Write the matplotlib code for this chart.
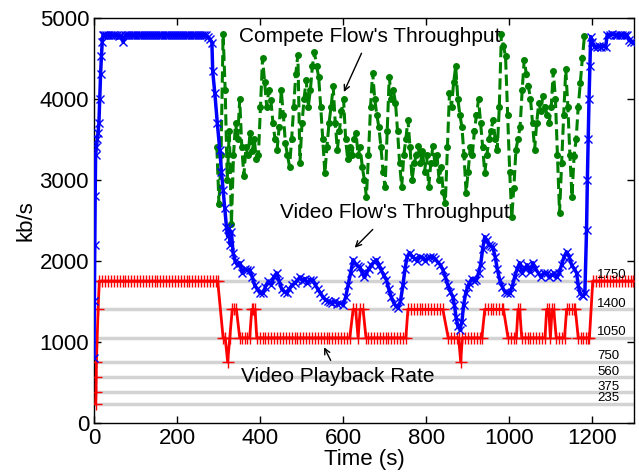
import numpy as np
import matplotlib
matplotlib.use("Agg")
import matplotlib.pyplot as plt

plt.rcParams['font.family'] = ['Liberation Sans', 'DejaVu Sans']

# ---------------- data ----------------
bitrates = [235, 375, 560, 750, 1050, 1400, 1750]
bitrate_labels = ['235', '375', '560', '750', '1050', '1400', '1750']

x_ticks = [0, 200, 400, 600, 800, 1000, 1200]
y_ticks = [0, 1000, 2000, 3000, 4000, 5000]

# Video flow throughput (kb/s)
video_t = [0, 1, 2, 3, 4, 6, 8, 10, 12, 14, 16, 18, 20, 22,
           25, 30, 35, 40, 45, 50, 55, 60, 65, 70, 75, 80, 85, 90, 95, 100,
           105, 110, 115, 120, 125, 130, 135, 140, 145, 150, 155, 160, 165, 170,
           175, 180, 185, 190, 195, 200, 205, 210, 215, 220, 225, 230, 235, 240,
           245, 250, 255, 260, 265, 270, 275,
           280, 284, 286, 291, 297, 303, 307, 311, 315, 319, 322, 325, 328, 331,
           335, 340, 345, 351, 357, 363, 369, 375, 381, 387, 393, 400, 407, 413,
           420, 427, 433, 440, 446, 452, 458, 464, 470, 477, 483, 490, 496, 502,
           508, 514, 520, 527, 533, 539, 545, 551, 557, 563, 568, 574, 580, 586,
           592, 600, 606, 612, 618, 624, 630, 636, 640, 646, 651, 656, 662, 668,
           674, 680, 686, 692, 698, 704, 710, 716, 722, 727, 732, 738, 744, 749,
           754, 760, 766, 772, 778, 784, 792, 798, 804, 810, 816, 822, 828, 834,
           840, 846, 852, 858, 864, 868, 872, 876, 881, 886, 890, 895, 900, 904,
           910, 915, 921, 926, 931, 936, 941, 946, 950, 955, 960, 966, 971, 977,
           983, 989, 995, 1001, 1007, 1013, 1019, 1025, 1031, 1037, 1043, 1050,
           1057, 1063, 1070, 1076, 1083, 1090, 1096, 1102, 1108, 1114, 1120, 1126,
           1132, 1138, 1144, 1150, 1156, 1162, 1166, 1170, 1174, 1178, 1182, 1186,
           1188, 1190, 1192, 1194, 1196, 1200, 1205, 1210, 1215, 1220, 1226, 1232,
           1236, 1242, 1248, 1254, 1260, 1266, 1272, 1278, 1283, 1288, 1294, 1300]
video_v = [800, 1500, 2200, 2800, 3300, 3400, 3500, 3580, 3700, 4000, 4300, 4520, 4700, 4790,
           4780, 4790, 4780, 4790, 4780, 4790, 4780, 4770, 4780, 4700, 4780, 4790, 4780, 4790, 4780, 4790,
           4780, 4790, 4780, 4790, 4780, 4780, 4790, 4780, 4790, 4780, 4790, 4780, 4790, 4780,
           4790, 4780, 4790, 4780, 4790, 4780, 4790, 4780, 4790, 4780, 4790, 4780, 4790, 4780,
           4790, 4780, 4790, 4780, 4790, 4780, 4760,
           4730, 4690, 4335, 4070, 3700, 3370, 3100, 2876, 2650, 2420, 2300, 2400, 2200, 2350,
           2100, 2000, 1950, 1975, 1850, 1900, 1880, 1890, 1800, 1700, 1650, 1600, 1600, 1680,
           1750, 1700, 1800, 1850, 1750, 1650, 1620, 1600, 1650, 1700, 1720, 1760, 1800, 1750,
           1780, 1720, 1765, 1765, 1700, 1650, 1600, 1556, 1520, 1500, 1495, 1480, 1500, 1470,
           1480, 1457, 1550, 1700, 1850, 2012, 1960, 1930, 1926, 1850, 1800, 1850, 1900, 1950,
           1980, 2012, 1950, 1880, 1820, 1765, 1650, 1550, 1480, 1440, 1420, 1500, 1700, 1900,
           2050, 2100, 2050, 2030, 2000, 2050, 2037, 2000, 2030, 2050, 2050, 2020, 1980, 1950,
           1890, 1800, 1700, 1620, 1556, 1450, 1300, 1200, 1148, 1250, 1450, 1600, 1680, 1728,
           1780, 1750, 1765, 1850, 1950, 2150, 2296, 2250, 2200, 2180, 2173, 2050, 1900, 1765,
           1680, 1620, 1600, 1605, 1680, 1800, 1900, 1975, 1850, 1900, 1950, 1860,
           1975, 1900, 1850, 1800, 1850, 1850, 1800, 1820, 1850, 1800, 1850, 1950,
           2050, 2110, 2050, 1950, 1900, 1850, 1700, 1600, 1580, 1560, 1600, 2380,
           3000, 3500, 4000, 4400, 4765, 4700, 4640, 4640, 4650, 4640, 4650, 4640,
           4790, 4790, 4800, 4790, 4790, 4780, 4790, 4780, 4790, 4720, 4700, 4700]

# Competing flow throughput (kb/s), sampled every 5 s from t = 296 s
compete_t = np.arange(296, 1182, 5)
compete_v = [3400, 2700, 3300, 4800, 4100, 3000, 3600, 2450, 3300, 3700,
             3500, 3990, 3400, 3050, 3400, 3300, 3580, 3350, 3500, 3250,
             3300, 3900, 4500, 4200, 3900, 4100, 3980, 3700, 3500, 3370,
             3650, 4100, 3800, 3450, 3300, 3160, 3500, 3900, 4300, 4540,
             3210, 3700, 4000, 4230, 3900, 4100, 4400, 4570, 4400, 4270,
             3900, 3500, 3080, 3400, 3700, 3900, 4150, 3700, 3370, 3600,
             3850, 3990, 3500, 3250, 3400, 3300, 3500, 3580, 3300, 3400,
             3160, 3000, 2790, 3300, 3900, 4320, 4000, 3800, 3650, 3400,
             3100, 2910, 3600, 4270, 4000, 4100, 3950, 3600, 3200, 2910,
             3300, 3500, 3740, 3400, 3000, 3200, 3300, 3410, 3200, 3350,
             3100, 3300, 2910, 3200, 3410, 3200, 3300, 3000, 3150, 2850,
             2710, 3400, 4070, 3900, 4200, 4400, 4000, 3800, 3650, 3300,
             2840, 3100, 3400, 3300, 3600, 3800, 3990, 3700, 3400, 3080,
             3300, 3500, 3600, 3740, 3500, 3370, 3900, 4800, 4650, 4520,
             3800, 3100, 2540, 2900, 3370, 3500, 3650, 4100, 4480, 4300,
             4150, 4000, 3700, 3370, 3700, 3950, 3850, 4030, 3900, 3800,
             3700, 3900, 4340, 4000, 3300, 2590, 3200, 3800, 4360, 3900,
             3300, 2790, 3290, 3500, 3900, 4190, 4500, 4770]

# Video playback rate (kb/s)
play_t = [4, 5, 5.5, 6, 10, 13,
          20, 27, 34, 41, 48, 55, 62, 69, 76, 83, 90, 97, 104, 111, 118, 125,
          132, 139, 146, 153, 160, 167, 174, 181, 188, 195, 202, 209, 216, 223,
          230, 237, 244, 251, 258, 265, 272, 279, 286, 293, 298,
          311, 316, 322, 327, 333, 338, 343, 351, 357, 363, 369, 375, 380, 384,
          388, 392,
          399, 406, 413, 420, 427, 434, 441, 448, 455, 462, 469, 476, 483, 490,
          497, 504, 511, 518, 525, 532, 539, 546, 553, 560, 567, 574, 581, 588,
          595, 602, 609, 616,
          624, 630, 636, 641, 648, 655,
          660, 667, 674, 681, 688, 695, 702, 709, 716, 723, 730, 737, 744, 751,
          756, 763, 770, 777, 784, 791, 798, 805, 812, 819, 826, 833, 840,
          853, 860, 867, 874, 878, 883, 887, 894, 901, 908, 915, 922, 929, 934,
          941, 948, 955, 962, 969, 976, 983, 986,
          997, 1004, 1011, 1017, 1021, 1025, 1030,
          1037, 1044, 1051, 1058, 1065, 1072, 1079, 1086,
          1090, 1095, 1099, 1103, 1107, 1113,
          1120, 1127, 1133, 1138, 1144, 1150, 1156, 1159,
          1166, 1172, 1178, 1184, 1190, 1193, 1201,
          1208, 1215, 1222, 1229, 1236, 1243, 1250, 1257, 1264, 1271, 1278, 1285,
          1292, 1299]
play_v = [235, 375, 560, 750, 1400, 1750,
          1750, 1750, 1750, 1750, 1750, 1750, 1750, 1750, 1750, 1750, 1750, 1750, 1750, 1750, 1750, 1750,
          1750, 1750, 1750, 1750, 1750, 1750, 1750, 1750, 1750, 1750, 1750, 1750, 1750, 1750,
          1750, 1750, 1750, 1750, 1750, 1750, 1750, 1750, 1750, 1750, 1750,
          1050, 1050, 750, 1050, 1400, 1400, 1400, 1050, 1050, 1050, 1050, 1050, 1400, 1400,
          1400, 1050,
          1050, 1050, 1050, 1050, 1050, 1050, 1050, 1050, 1050, 1050, 1050, 1050, 1050, 1050,
          1050, 1050, 1050, 1050, 1050, 1050, 1050, 1050, 1050, 1050, 1050, 1050, 1050, 1050,
          1050, 1050, 1050, 1050,
          1400, 1400, 1050, 1400, 1400, 1050,
          1050, 1050, 1050, 1050, 1050, 1050, 1050, 1050, 1050, 1050, 1050, 1050, 1050, 1050,
          1400, 1400, 1400, 1400, 1400, 1400, 1400, 1400, 1400, 1400, 1400, 1400, 1400,
          1050, 1050, 1050, 1050, 1050, 750, 1050, 1050, 1050, 1050, 1050, 1050, 1050, 1050,
          1400, 1400, 1400, 1400, 1400, 1400, 1400, 1400,
          1050, 1050, 1050, 1050, 1400, 1400, 1050,
          1050, 1050, 1050, 1050, 1050, 1050, 1050, 1050,
          1400, 1400, 1050, 1400, 1400, 1050,
          1050, 1050, 1050, 1400, 1400, 1400, 1400, 1400,
          1050, 1050, 1050, 1050, 1050, 1050, 1750,
          1750, 1750, 1750, 1750, 1750, 1750, 1750, 1750, 1750, 1750, 1750, 1750,
          1750, 1750]

# ---------------- figure ----------------
fig = plt.figure(figsize=(6.39, 4.73), dpi=100)
ax = fig.add_axes([0.147, 0.106, 0.845, 0.857])

for b, lab in zip(bitrates, bitrate_labels):
    ax.axhline(b, color='#d3d3d3', lw=2.5, zorder=1)
    ax.text(1212, b - 5, lab, fontsize=9.5, va='bottom', ha='left', zorder=6)

ax.plot(compete_t, compete_v, color='#008000', ls='--', lw=2.2,
        marker='o', ms=4, zorder=3)
ax.plot(play_t, play_v, color='red', ls='-', lw=2.0,
        marker='+', ms=8, mew=1.0, zorder=4)
ax.plot(video_t, video_v, color='blue', ls='-', lw=2.5,
        marker='x', ms=6, mew=1.0, zorder=5)

arrow = dict(arrowstyle='->', color='black', lw=1.0)
ax.annotate("Compete Flow's Throughput", xy=(599, 4050), xytext=(664, 4765),
            fontsize=15, ha='center', va='center', zorder=7)
ax.annotate("", xy=(599, 4050), xytext=(647, 4590), arrowprops=arrow)
ax.annotate("Video Flow's Throughput", xy=(623, 2136), xytext=(724, 2593),
            fontsize=15, ha='center', va='center', zorder=7)
ax.annotate("", xy=(623, 2136), xytext=(676, 2410), arrowprops=arrow)
ax.annotate("Video Playback Rate", xy=(551, 963), xytext=(587, 568),
            fontsize=15, ha='center', va='center', zorder=7)
ax.annotate("", xy=(551, 963), xytext=(573, 740), arrowprops=arrow)

ax.set_xlim(0, 1300)
ax.set_ylim(0, 5000)
ax.set_xticks(x_ticks)
ax.set_yticks(y_ticks)
ax.tick_params(direction='in', top=True, right=True, labelsize=16, length=5, width=1)
ax.set_xlabel('Time (s)', fontsize=16, labelpad=0)
ax.set_ylabel('kb/s', fontsize=16, labelpad=2)
for s in ax.spines.values():
    s.set_linewidth(1.0)

fig.savefig('out.png', dpi=100)
